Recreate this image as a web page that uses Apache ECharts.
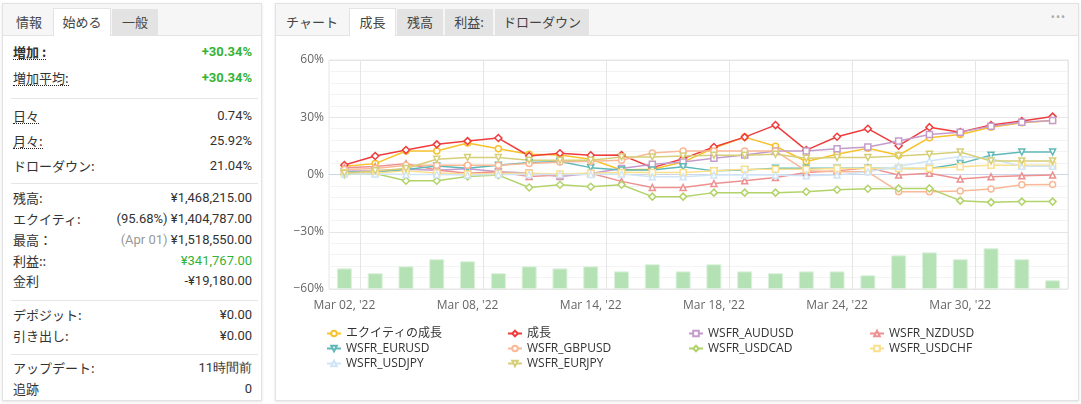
<!DOCTYPE html>
<html><head><meta charset="utf-8">
<script src="https://cdn.jsdelivr.net/npm/echarts@6/dist/echarts.min.js"></script>
<style>
html,body{margin:0;padding:0;width:1081px;height:404px;background:#fff;overflow:hidden;font-family:Roboto,"Noto Sans CJK JP",sans-serif;color:#333}
.panel{position:absolute;background:#fff;border:1px solid #e2e2e2;box-shadow:0 1px 3px rgba(0,0,0,.10)}
.tabrow{position:absolute;left:0;top:0;right:0;height:31px;background:#f6f6f6;border-bottom:1px solid #e4e4e4}
.tab{position:absolute;top:5px;height:26px;line-height:26px;text-align:center;font-size:13px;color:#444;font-family:"Noto Sans CJK JP",sans-serif}
.tab.act{background:#fff;border:1px solid #e4e4e4;border-bottom:none;height:27px;top:4px}
.tab.grey{background:#e3e3e3}
.row{position:absolute;left:10px;width:239px;height:18px;line-height:18px;font-size:13px}
.row .l{position:absolute;left:0;top:0;font-family:"Noto Sans CJK JP",sans-serif;color:#333}
.row .v{position:absolute;right:0;top:0;font-family:Roboto,sans-serif;color:#333;white-space:nowrap}
.u{border-bottom:1px dotted #222;line-height:15px;display:inline-block}
.sep{position:absolute;left:8px;width:247px;height:1px;background:#e6e6e6}
.green{color:#35b335 !important}
#chart{position:absolute;left:0;top:0;width:1081px;height:404px}
</style></head><body>

<div class="panel" style="left:2px;top:3px;width:258px;height:396px">
  <div class="tabrow">
    <div class="tab" style="left:6px;width:40px">情報</div>
    <div class="tab act" style="left:50px;width:56px">始める</div>
    <div class="tab grey" style="left:109px;width:46px">一般</div>
  </div>
  <div class="row" style="top:39px"><span class="l"><span class="u" style="font-weight:bold">増加 :</span></span><span class="v green" style="font-weight:bold">+30.34%</span></div>
  <div class="row" style="top:65px"><span class="l"><span class="u">増加平均:</span></span><span class="v green" style="font-weight:bold">+30.34%</span></div>
  <div class="sep" style="top:94px"></div>
  <div class="row" style="top:103px"><span class="l"><span class="u">日々</span></span><span class="v">0.74%</span></div>
  <div class="row" style="top:128px"><span class="l"><span class="u">月々:</span></span><span class="v">25.92%</span></div>
  <div class="row" style="top:153px"><span class="l">ドローダウン:</span><span class="v">21.04%</span></div>
  <div class="sep" style="top:179px"></div>
  <div class="row" style="top:185px"><span class="l">残高:</span><span class="v">¥1,468,215.00</span></div>
  <div class="row" style="top:206px"><span class="l">エクイティ:</span><span class="v">(95.68%) ¥1,404,787.00</span></div>
  <div class="row" style="top:227px"><span class="l">最高：</span><span class="v"><span style="color:#999">(Apr 01)</span> ¥1,518,550.00</span></div>
  <div class="row" style="top:248px"><span class="l">利益::</span><span class="v green">¥341,767.00</span></div>
  <div class="row" style="top:268px"><span class="l">金利</span><span class="v">-¥19,180.00</span></div>
  <div class="sep" style="top:296px"></div>
  <div class="row" style="top:302px"><span class="l">デポジット:</span><span class="v">¥0.00</span></div>
  <div class="row" style="top:323px"><span class="l">引き出し:</span><span class="v">¥0.00</span></div>
  <div class="sep" style="top:350px"></div>
  <div class="row" style="top:355px"><span class="l">アップデート:</span><span class="v">11時間前</span></div>
  <div class="row" style="top:376px"><span class="l">追跡</span><span class="v">0</span></div>
</div>

<div class="panel" style="left:275px;top:3px;width:802px;height:396px">
  <div class="tabrow">
    <div class="tab" style="left:8px;width:56px">チャート</div>
    <div class="tab act" style="left:73px;width:45px">成長</div>
    <div class="tab grey" style="left:121px;width:46px">残高</div>
    <div class="tab grey" style="left:169px;width:48px">利益:</div>
    <div class="tab grey" style="left:219px;width:94px">ドローダウン</div>
    <div style="position:absolute;right:12px;top:6px;font-size:12px;color:#aaa;letter-spacing:1px">•••</div>
  </div>
</div>

<div id="chart"></div>
<script>
const categories = ["Mar 02, '22","Mar 03, '22","Mar 04, '22","Mar 07, '22","Mar 08, '22","Mar 09, '22","Mar 10, '22","Mar 11, '22","Mar 14, '22","Mar 15, '22","Mar 16, '22","Mar 17, '22","Mar 18, '22","Mar 21, '22","Mar 22, '22","Mar 23, '22","Mar 24, '22","Mar 25, '22","Mar 28, '22","Mar 29, '22","Mar 30, '22","Mar 31, '22","Apr 01, '22","Apr 04, '22"];
const yTicks = [-60, -30, 0, 30, 60];
const equityGrowth = [4.3,5.7,12.3,12.3,16.5,13.5,10.6,10.2,8.0,2.4,2.8,6.5,13.9,19.6,14.8,6.8,10.6,13.7,10.1,19.3,21.0,24.8,27.1,28.3];
const growth = [5.0,9.7,12.8,15.8,17.5,19.1,9.7,11.1,10.1,10.2,3.6,8.3,14.4,19.6,25.9,12.8,19.8,24.0,15.1,24.8,22.2,25.9,28.0,30.34];
const audusd = [1.7,2.0,2.8,2.2,3.0,1.5,0.8,-1.0,0.5,3.1,5.4,6.6,8.5,10.2,12.3,12.3,13.5,14.4,17.5,21.0,22.2,25.3,27.4,28.3];
const nzdusd = [3.6,4.2,5.7,2.4,0.7,1.4,-1.0,-0.2,0.7,-3.6,-6.8,-6.8,-4.7,-3.3,-1.6,1.0,1.9,3.6,-0.3,0.7,-2.4,-1.2,-0.7,-0.3];
const eurusd = [1.4,1.0,2.6,4.5,3.3,4.9,6.3,6.8,3.6,2.3,2.3,4.0,1.9,2.3,3.3,3.3,3.3,3.3,3.1,3.1,5.7,10.1,11.8,11.8];
const gbpusd = [2.6,3.1,4.9,4.9,4.9,4.9,5.7,6.6,7.0,7.5,11.3,12.3,12.3,12.3,12.3,1.9,1.4,1.4,-9.0,-9.0,-8.7,-7.6,-5.4,-5.2];
const usdcad = [0.0,0.5,-3.3,-3.3,-1.0,-0.3,-6.8,-5.4,-6.4,-5.4,-11.6,-11.6,-9.5,-9.5,-9.5,-9.0,-8.0,-7.5,-7.3,-7.3,-13.7,-14.6,-14.2,-14.2];
const usdchf = [1.0,0.8,1.9,0.8,0.2,0.5,0.7,0.2,0.7,1.0,1.0,1.0,1.9,2.8,2.8,2.8,3.1,3.1,3.1,3.1,4.0,4.9,4.9,4.9];
const usdjpy = [0.3,0.2,0.0,0.0,-0.3,0.0,0.0,0.0,0.0,0.2,-1.2,-1.2,-0.2,-0.2,-0.2,-0.7,-0.3,1.4,4.3,7.1,9.4,8.3,4.3,4.3];
const eurjpy = [0.7,1.9,3.1,8.0,8.9,8.9,7.5,7.5,7.5,9.2,9.2,9.7,10.1,10.1,10.6,8.5,8.9,8.9,9.7,10.6,11.8,7.1,7.1,7.1];
const activity = [9.0,6.9,9.9,13.0,12.1,6.9,9.9,9.0,9.9,7.7,10.8,7.7,10.8,7.7,6.9,7.7,7.7,6.0,14.7,16.0,13.0,17.8,13.0,3.8];

const lineDefs = [
  ['エクイティの成長', equityGrowth, '#f8c22c', 'circle', 0],
  ['成長', growth, '#ef3d3d', 'diamond', 0],
  ['WSFR_AUDUSD', audusd, '#c49ccc', 'rect', 0],
  ['WSFR_NZDUSD', nzdusd, '#ee9090', 'triangle', 0],
  ['WSFR_EURUSD', eurusd, '#5fb8b8', 'triangle', 180],
  ['WSFR_GBPUSD', gbpusd, '#f9b896', 'circle', 0],
  ['WSFR_USDCAD', usdcad, '#b2d36a', 'diamond', 0],
  ['WSFR_USDCHF', usdchf, '#fbdf8a', 'rect', 0],
  ['WSFR_USDJPY', usdjpy, '#cfe5f7', 'triangle', 0],
  ['WSFR_EURJPY', eurjpy, '#d6cf78', 'triangle', 180]
];
const sizes = {circle: 6, diamond: 7, rect: 6, triangle: 6};
const FONT = '"Open Sans","Noto Sans CJK JP",sans-serif';
const series = [{
  name: 'activity', type: 'bar', yAxisIndex: 1, data: activity, barWidth: 15,
  itemStyle: {color: '#b4e2b4', borderColor: '#dcf1dc', borderWidth: 1}, z: 1, silent: true
}];
lineDefs.forEach(d => {
  series.push({
    name: d[0], type: 'line', data: d[1], symbol: d[3], symbolRotate: d[4],
    symbolSize: sizes[d[3]],
    showAllSymbol: true,
    lineStyle: {color: d[2], width: 1.5},
    itemStyle: {color: '#fff', borderColor: d[2], borderWidth: 1.5},
    z: 3
  });
});
const chart = echarts.init(document.getElementById('chart'), null, {renderer: 'canvas'});
chart.setOption({
  animation: false,
  textStyle: {fontFamily: FONT},
  grid: {left: 329, top: 60, width: 739, height: 229, show: true, borderColor: '#e6e6e6', borderWidth: 1},
  legend: {
    data: lineDefs.map(d => d[0]),
    left: 326, top: 326, width: 740, orient: 'horizontal', padding: 0,
    itemGap: 0, itemWidth: 14, itemHeight: 7,
    textStyle: {fontSize: 12, color: '#333', width: 161, overflow: 'truncate', lineHeight: 15, fontFamily: FONT}
  },
  xAxis: {
    type: 'category', data: categories, boundaryGap: true,
    axisLine: {lineStyle: {color: '#ccd6eb', width: 1}},
    axisTick: {show: false},
    axisLabel: {interval: 3, color: '#666', fontSize: 12, margin: 11, fontFamily: FONT},
    splitLine: {show: true, interval: (i) => i % 4 === 1, lineStyle: {color: '#e6e6e6'}}
  },
  yAxis: [{
    type: 'value', min: yTicks[0], max: yTicks[yTicks.length - 1], interval: 30,
    axisLine: {show: false}, axisTick: {show: false},
    axisLabel: {color: '#666', fontSize: 12, margin: 5, fontFamily: FONT,
      formatter: v => (v < 0 ? '\u2212' : '') + Math.abs(v) + '%'},
    splitLine: {lineStyle: {color: '#e6e6e6'}},
    minorTick: {show: false, splitNumber: 5},
    minorSplitLine: {show: true, lineStyle: {color: '#f3f3f3'}}
  }, {
    type: 'value', min: 0, max: 100, show: false, splitLine: {show: false}
  }],
  series: series
});
</script>
</body></html>
